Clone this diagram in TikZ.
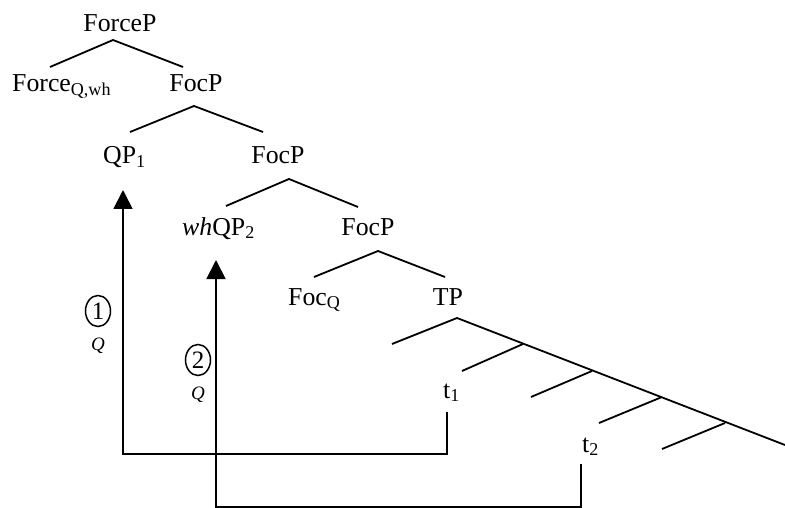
\documentclass[tikz,border=0pt]{standalone}
\usepackage{fontspec}
\setmainfont{Liberation Serif}
\usetikzlibrary{arrows.meta,shapes.geometric}
\begin{document}
\begin{tikzpicture}[x=1pt,y=-1pt,
  lbl/.style={inner sep=0pt,font=\fontsize{25.8}{31}\selectfont},
  br/.style={line width=1.8pt},
  mv/.style={line width=1.8pt,-{Triangle[width=19pt,length=19pt]}},
  circ/.style={ellipse,draw,line width=1.5pt,inner sep=0pt,minimum width=25pt,minimum height=31pt,font=\fontsize{25}{30}\selectfont},
  qq/.style={inner sep=0pt,font=\fontsize{19}{23}\selectfont\itshape}]
\useasboundingbox (0,0) rectangle (785,508);
% labels
\node[lbl,anchor=base] (fp) at (120,32) {ForceP};
\node[lbl,anchor=base west] (fq) at (12,92) {Force\textsubscript{Q,wh}};
\node[lbl,anchor=base] (foc1) at (196,92) {FocP};
\node[lbl,anchor=base west] (qp1) at (103,164) {QP\textsubscript{1}};
\node[lbl,anchor=base] (foc2) at (278,164) {FocP};
\node[lbl,anchor=base west] (wh) at (182,235) {\textit{wh}QP\textsubscript{2}};
\node[lbl,anchor=base] (foc3) at (368,235) {FocP};
\node[lbl,anchor=base west] (focq) at (288,305) {Foc\textsubscript{Q}};
\node[lbl,anchor=base] (tp) at (448,305) {TP};
\node[lbl,anchor=base west] (t1) at (443,398) {t\textsubscript{1}};
\node[lbl,anchor=base west] (t2) at (582,452) {t\textsubscript{2}};
\node[circ] (c1) at (98,311) {1};
\node[qq,anchor=base] (q1) at (98,350) {Q};
\node[circ] (c2) at (198,360) {2};
\node[qq,anchor=base] (q2) at (198,399) {Q};
% tree coordinates
\coordinate (fpA) at (113,40); \coordinate (fpL) at (50,67); \coordinate (fpR) at (183,67);
\coordinate (f1A) at (194,106); \coordinate (f1L) at (130,132); \coordinate (f1R) at (263,132);
\coordinate (f2A) at (289,179); \coordinate (f2L) at (226,206); \coordinate (f2R) at (358,207);
\coordinate (f3A) at (378,251); \coordinate (f3L) at (314,277); \coordinate (f3R) at (445,277);
\coordinate (tpA) at (457,318); \coordinate (tpL) at (392,344); \coordinate (spE) at (785,445);
\coordinate (s1) at (523,344); \coordinate (s1L) at (462,371);
\coordinate (s2) at (592,371); \coordinate (s2L) at (531,397);
\coordinate (s3) at (662,397); \coordinate (s3L) at (599,423);
\coordinate (s4) at (725,423); \coordinate (s4L) at (662,449);
\draw[br] (fpL) -- (fpA) -- (fpR);
\draw[br] (f1L) -- (f1A) -- (f1R);
\draw[br] (f2L) -- (f2A) -- (f2R);
\draw[br] (f3L) -- (f3A) -- (f3R);
\draw[br] (tpL) -- (tpA) -- (spE);
\draw[br] (s1L) -- (s1);
\draw[br] (s2L) -- (s2);
\draw[br] (s3L) -- (s3);
\draw[br] (s4L) -- (s4);
% movement arrows
\coordinate (t1f) at (447,412); \coordinate (t1b) at (447,454);
\coordinate (q1b) at (123,454); \coordinate (q1t) at (123,190);
\coordinate (t2f) at (581,464); \coordinate (t2b) at (581,507);
\coordinate (q2b) at (216,507); \coordinate (q2t) at (216,260);
\draw[mv] (t1f) -- (t1b) -- (q1b) -- (q1t);
\draw[mv] (t2f) -- (t2b) -- (q2b) -- (q2t);
\end{tikzpicture}
\end{document}
